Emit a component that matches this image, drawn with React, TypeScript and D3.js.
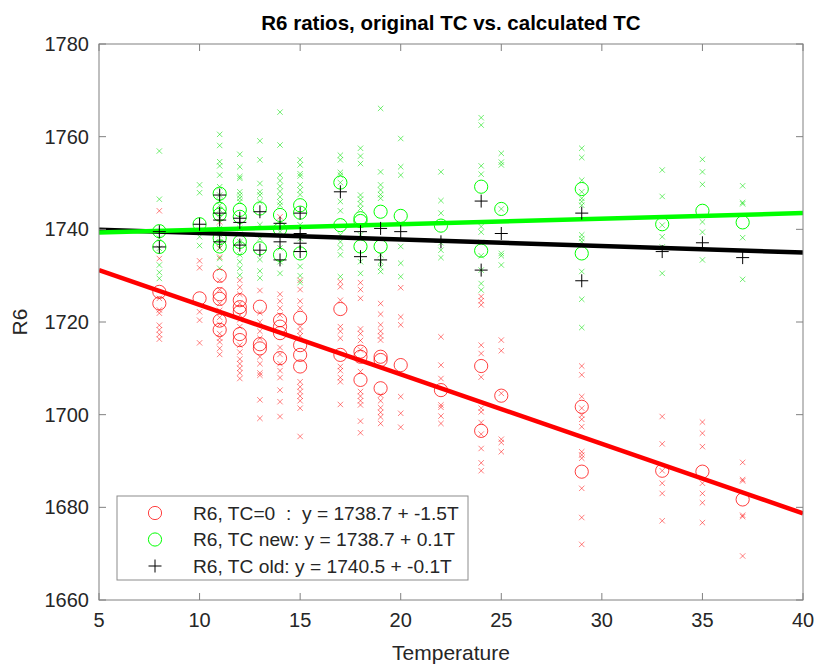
import React from "react";
import * as d3 from "d3";

// ---------- data ----------
const xTicks = [5, 10, 15, 20, 25, 30, 35, 40];
const yTicks = [1660, 1680, 1700, 1720, 1740, 1760, 1780];

// rows: [T, ...R6 values]
const redCircles: number[][] = [
  [8, 1726.5, 1724.0],
  [10, 1725.1],
  [11, 1730.0, 1726.0, 1725.0, 1720.3, 1718.3],
  [12, 1724.7, 1723.2, 1722.2, 1717.4, 1716.1],
  [13, 1723.3, 1715.2, 1714.3],
  [14, 1720.4, 1719.0, 1717.6, 1712.2],
  [15, 1720.9, 1715.0, 1712.9, 1710.4],
  [17, 1722.8, 1712.9],
  [18, 1713.6, 1712.5, 1707.5],
  [19, 1712.5, 1711.8, 1705.7],
  [20, 1710.7],
  [22, 1705.3],
  [24, 1710.5, 1696.5],
  [25, 1704.1],
  [29, 1701.7, 1687.7],
  [33, 1687.9],
  [35, 1687.7],
  [37, 1681.7],
];

const greenCircles: number[][] = [
  [8, 1739.6, 1736.2],
  [10, 1741.1],
  [11, 1747.7, 1744.4, 1743.2, 1738.1, 1736.3],
  [12, 1744.2, 1742.7, 1737.3, 1735.9],
  [13, 1744.5, 1735.9],
  [14, 1743.1, 1740.0, 1734.5],
  [15, 1745.2, 1743.6, 1734.8],
  [17, 1750.1, 1740.9],
  [18, 1742.4, 1741.8, 1736.3],
  [19, 1743.8, 1736.3],
  [20, 1742.9],
  [22, 1740.8],
  [24, 1749.2, 1735.4],
  [25, 1744.4],
  [29, 1748.7, 1734.8],
  [33, 1741.1],
  [35, 1744.0],
  [37, 1741.5],
];

const blackPlus: number[][] = [
  [8, 1739.5, 1736.2],
  [10, 1741.1],
  [11, 1747.4, 1743.5, 1742.0, 1737.3],
  [12, 1742.4, 1741.5, 1736.6],
  [13, 1743.8, 1735.5],
  [14, 1741.3, 1737.3, 1733.4],
  [15, 1743.5, 1739.1, 1737.0, 1735.2],
  [17, 1748.1],
  [18, 1739.5, 1734.1],
  [19, 1740.2, 1733.4],
  [20, 1739.5],
  [22, 1737.3],
  [24, 1746.1, 1731.2],
  [25, 1739.1],
  [29, 1743.5, 1728.9],
  [33, 1735.2],
  [35, 1737.1],
  [37, 1733.9],
];

const greenX: number[][] = [
  [8, 1756.9, 1746.5, 1738.1, 1735.9, 1732.3, 1730.7, 1729.4],
  [10, 1749.6, 1747.9, 1738.4, 1736.5],
  [11, 1760.5, 1758.1, 1754.6, 1753.7, 1751.7, 1749.2, 1747.4, 1746.1, 1745.2, 1744.2, 1742.4, 1740.2, 1738.8, 1737.3, 1735.9, 1733.7, 1731.6],
  [12, 1756.2, 1753.5, 1751.4, 1751.0, 1748.1, 1747.4, 1746.7, 1746.0, 1740.2, 1737.3, 1734.5, 1733.0, 1731.6, 1730.1],
  [13, 1759.1, 1755.0, 1749.9, 1748.1, 1747.4, 1746.0, 1741.0, 1738.0, 1733.5, 1731.0, 1729.5],
  [14, 1765.3, 1758.2, 1751.7, 1750.5, 1749.3, 1748.2, 1747.0, 1745.9, 1745.2, 1739.5, 1736.0, 1733.0, 1730.5],
  [15, 1755.0, 1753.9, 1752.0, 1751.5, 1749.6, 1748.5, 1747.5, 1741.0, 1738.0, 1732.0, 1730.0, 1728.5],
  [17, 1756.0, 1755.0, 1752.3, 1751.7, 1750.1, 1746.0, 1744.0, 1738.8, 1737.3, 1736.0, 1734.5, 1729.8],
  [18, 1757.5, 1755.8, 1754.2, 1747.4, 1746.5, 1745.5, 1744.5, 1738.8, 1733.0, 1730.5],
  [19, 1766.1, 1752.4, 1749.6, 1748.5, 1747.5, 1746.7, 1734.5, 1733.0, 1731.8, 1730.9],
  [20, 1759.6, 1753.5, 1751.7, 1736.3, 1732.7, 1729.8],
  [22, 1752.4, 1746.2, 1743.5, 1737.1, 1735.5, 1733.9],
  [24, 1764.1, 1762.5, 1753.7, 1751.9, 1740.6, 1739.4, 1737.2, 1734.3, 1731.2, 1728.3, 1726.9],
  [25, 1756.4, 1754.5, 1753.9, 1744.4, 1734.8, 1734.3, 1732.3],
  [29, 1757.5, 1755.5, 1750.6, 1748.1, 1746.7, 1746.0, 1745.2, 1738.8, 1738.0, 1737.3, 1730.9, 1724.9, 1718.8],
  [33, 1752.8, 1747.1, 1740.9, 1738.4, 1736.2, 1730.5],
  [35, 1755.1, 1752.4, 1749.7, 1741.6, 1739.4, 1733.4],
  [37, 1749.4, 1745.8, 1745.5, 1738.2, 1729.2],
];

const redX: number[][] = [
  [8, 1744.0, 1733.7, 1725.1, 1722.6, 1721.9, 1719.3, 1718.3, 1717.3, 1716.3],
  [10, 1733.2, 1731.7, 1722.2, 1720.4, 1715.5],
  [11, 1741.6, 1736.0, 1734.0, 1729.0, 1727.0, 1724.0, 1722.5, 1721.0, 1719.5, 1717.5, 1716.5, 1715.7, 1714.3, 1713.0],
  [12, 1729.0, 1727.5, 1726.0, 1724.0, 1721.5, 1720.5, 1719.0, 1715.0, 1713.5, 1712.0, 1711.0, 1710.0, 1709.0, 1707.8],
  [13, 1726.8, 1722.0, 1720.0, 1718.0, 1716.5, 1712.5, 1711.0, 1709.0, 1708.5, 1703.2, 1699.2],
  [14, 1742.7, 1726.0, 1724.5, 1723.0, 1721.5, 1714.5, 1713.0, 1711.0, 1709.5, 1708.0, 1705.3, 1702.8, 1699.6],
  [15, 1729.0, 1727.0, 1724.5, 1723.0, 1719.0, 1718.0, 1717.0, 1707.1, 1706.0, 1705.0, 1704.0, 1703.0, 1701.4, 1695.3],
  [17, 1728.7, 1727.6, 1724.7, 1719.0, 1718.0, 1716.5, 1710.4, 1709.5, 1708.0, 1707.1, 1702.2],
  [18, 1728.5, 1727.0, 1725.1, 1718.5, 1717.5, 1716.0, 1714.0, 1709.3, 1705.0, 1704.0, 1703.0, 1702.1, 1698.6, 1696.1],
  [19, 1724.0, 1721.7, 1719.4, 1718.0, 1717.0, 1716.1, 1704.2, 1703.0, 1701.5, 1700.5, 1699.5, 1698.1],
  [20, 1727.4, 1721.1, 1719.4, 1703.9, 1700.3, 1697.3],
  [22, 1716.8, 1710.7, 1707.8, 1702.1, 1701.6, 1699.7, 1698.1],
  [24, 1725.5, 1724.6, 1723.7, 1715.0, 1713.2, 1708.1, 1701.4, 1700.6, 1698.3, 1695.8, 1692.7, 1689.6, 1687.9],
  [25, 1716.1, 1713.8, 1704.6, 1694.7, 1694.0, 1692.0],
  [29, 1710.5, 1708.6, 1703.9, 1701.4, 1699.9, 1699.0, 1697.4, 1692.0, 1691.3, 1690.6, 1684.1, 1677.8, 1672.0],
  [33, 1699.6, 1693.7, 1687.9, 1685.2, 1683.0, 1677.1],
  [35, 1698.4, 1696.0, 1693.1, 1685.2, 1683.0, 1681.0, 1676.7],
  [37, 1689.7, 1686.0, 1685.7, 1678.3, 1678.0, 1669.5],
];

// linear fits: [intercept, slope]
const fitRed = [1738.7, -1.5];
const fitGreen = [1738.7, 0.12];
const fitBlack = [1740.6, -0.14];

const legendLabels = [
  "R6, TC=0  :  y = 1738.7 + -1.5T",
  "R6, TC new: y = 1738.7 + 0.1T",
  "R6, TC old: y = 1740.5 + -0.1T",
];

// ---------- layout ----------
const W = 817;
const H = 666;
const M = { left: 99, right: 803, top: 44, bottom: 600 };
const FONT = "'Liberation Sans', Arial, Helvetica, sans-serif";

const x = d3.scaleLinear().domain([5, 40]).range([M.left, M.right]);
const y = d3.scaleLinear().domain([1660, 1780]).range([M.bottom, M.top]);

function flatten(rows: number[][]): [number, number][] {
  const out: [number, number][] = [];
  rows.forEach((r) => r.slice(1).forEach((v) => out.push([r[0], v])));
  return out;
}

const XMark = ({ cx, cy, color, op }: any) => {
  const s = 2.7;
  return (
    <path
      d={`M${cx - s},${cy - s}L${cx + s},${cy + s}M${cx - s},${cy + s}L${cx + s},${cy - s}`}
      stroke={color}
      strokeOpacity={op}
      strokeWidth={1}
      fill="none"
    />
  );
};

const Plus = ({ cx, cy }: any) => {
  const s = 6.5;
  return (
    <path
      d={`M${cx - s},${cy}L${cx + s},${cy}M${cx},${cy - s}L${cx},${cy + s}`}
      stroke="#000"
      strokeWidth={1}
      fill="none"
    />
  );
};

export default function App() {
  const line = d3
    .line<number>()
    .x((t) => x(t))
    .y((t) => y(t));
  const fitPath = (f: number[]) =>
    line.y((t) => y(f[0] + f[1] * t))([5, 40]) as string;

  const rx = flatten(redX);
  const gx = flatten(greenX);
  const rc = flatten(redCircles);
  const gc = flatten(greenCircles);
  const bp = flatten(blackPlus);

  const axisColor = "#808080";
  const textColor = "#262626";
  const tickLen = 7;

  return (
    <svg
      width={W}
      height={H}
      style={{ position: "absolute", left: 0, top: 0, background: "#fff" }}
      fontFamily={FONT}
    >
      <rect x={0} y={0} width={W} height={H} fill="#fff" />
      <defs>
        <clipPath id="plotclip">
          <rect x={M.left} y={M.top} width={M.right - M.left} height={M.bottom - M.top} />
        </clipPath>
      </defs>

      <g clipPath="url(#plotclip)">
        {rx.map(([t, v], i) => (
          <XMark key={"rx" + i} cx={x(t)} cy={y(v)} color="#ff0000" op={0.5} />
        ))}
        {gx.map(([t, v], i) => (
          <XMark key={"gx" + i} cx={x(t)} cy={y(v)} color="#00e000" op={0.55} />
        ))}
        {rc.map(([t, v], i) => (
          <circle key={"rc" + i} cx={x(t)} cy={y(v)} r={6.6} fill="none" stroke="#ff0000" strokeOpacity={0.75} strokeWidth={1} />
        ))}
        {gc.map(([t, v], i) => (
          <circle key={"gc" + i} cx={x(t)} cy={y(v)} r={6.6} fill="none" stroke="#00ff00" strokeWidth={1} />
        ))}
        <path d={fitPath(fitRed)} stroke="#ff0000" strokeWidth={4.5} fill="none" />
        <path d={fitPath(fitBlack)} stroke="#000000" strokeWidth={4.5} fill="none" />
        <path d={fitPath(fitGreen)} stroke="#00ff00" strokeWidth={4.5} fill="none" />
        {bp.map(([t, v], i) => (
          <Plus key={"bp" + i} cx={x(t)} cy={y(v)} />
        ))}
      </g>

      {/* axes box */}
      <rect
        x={M.left}
        y={M.top}
        width={M.right - M.left}
        height={M.bottom - M.top}
        fill="none"
        stroke={axisColor}
        strokeWidth={1}
      />
      {xTicks.map((t) => (
        <g key={"xt" + t}>
          <line x1={x(t)} x2={x(t)} y1={M.bottom} y2={M.bottom - tickLen} stroke={axisColor} />
          <line x1={x(t)} x2={x(t)} y1={M.top} y2={M.top + tickLen} stroke={axisColor} />
          <text x={x(t)} y={627} textAnchor="middle" fontSize={20} fill={textColor}>
            {t}
          </text>
        </g>
      ))}
      {yTicks.map((v) => (
        <g key={"yt" + v}>
          <line x1={M.left} x2={M.left + tickLen} y1={y(v)} y2={y(v)} stroke={axisColor} />
          <line x1={M.right} x2={M.right - tickLen} y1={y(v)} y2={y(v)} stroke={axisColor} />
          <text x={M.left - 10} y={y(v) + 7} textAnchor="end" fontSize={20} fill={textColor}>
            {v}
          </text>
        </g>
      ))}

      {/* labels */}
      <text x={(M.left + M.right) / 2} y={30} textAnchor="middle" fontSize={20.5} fontWeight="bold" fill="#000">
        R6 ratios, original TC vs. calculated TC
      </text>
      <text x={(M.left + M.right) / 2} y={660} textAnchor="middle" fontSize={21} fill={textColor}>
        Temperature
      </text>
      <text
        transform={`translate(27,${(M.top + M.bottom) / 2}) rotate(-90)`}
        textAnchor="middle"
        fontSize={21}
        fill={textColor}
      >
        R6
      </text>

      {/* legend */}
      <g>
        <rect x={117} y={496} width={351} height={84} fill="#fff" stroke="#8c8c8c" strokeWidth={1} />
        {legendLabels.map((lab, i) => {
          const cy = 513 + i * 26.5;
          return (
            <g key={"lg" + i}>
              {i === 0 && <circle cx={155} cy={cy} r={6.6} fill="none" stroke="#ff0000" strokeOpacity={0.75} />}
              {i === 1 && <circle cx={155} cy={cy} r={6.6} fill="none" stroke="#00ff00" />}
              {i === 2 && <Plus cx={155} cy={cy} />}
              <text x={193} y={cy + 6.5} fontSize={19.2} fill={textColor} style={{ whiteSpace: "pre" }}>
                {lab}
              </text>
            </g>
          );
        })}
      </g>
    </svg>
  );
}
